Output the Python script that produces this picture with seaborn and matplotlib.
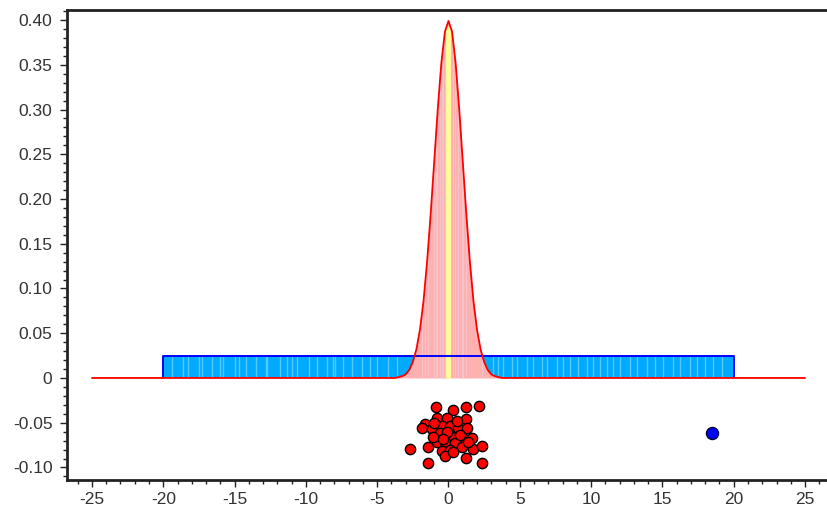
import numpy as np
import pandas as pd
import matplotlib
matplotlib.use("Agg")
import matplotlib.pyplot as plt
from matplotlib.ticker import MultipleLocator, FuncFormatter
import seaborn as sns

# normal density curve
curve_x = [-25, -4.0, -3.75, -3.5, -3.25, -3.0, -2.75, -2.5, -2.25, -2.0, -1.75, -1.5, -1.25, -1.0,
           -0.75, -0.5, -0.25, 0.0, 0.25, 0.5, 0.75, 1.0, 1.25, 1.5, 1.75, 2.0, 2.25, 2.5, 2.75,
           3.0, 3.25, 3.5, 3.75, 4.0, 25]
curve_y = [0.0, 0.0, 0.0, 0.001, 0.002, 0.004, 0.009, 0.018, 0.032, 0.054, 0.086, 0.130, 0.183, 0.242,
           0.301, 0.352, 0.387, 0.399, 0.387, 0.352, 0.301, 0.242, 0.183, 0.130, 0.086, 0.054, 0.032,
           0.018, 0.009, 0.004, 0.002, 0.001, 0.0, 0.0, 0.0]

# uniform density block
unif_lo, unif_hi, unif_h = -20, 20, 0.025
unif_stripes = [-19.4, -18.6, -18.25, -17.5, -17.3, -16.6, -16.0, -15.8, -15.0, -14.7, -14.2, -13.5,
                -12.8, -12.7, -11.8, -11.35, -11.0, -10.6, -9.8, -9.25, -8.5, -8.1, -7.96, -7.38,
                -6.79, -6.09, -5.5, -5.03, -4.22, -3.63, 3.14, 3.49, 3.84, 4.43, 4.78, 5.48, 5.95,
                6.53, 6.89, 7.59, 8.05, 8.52, 9.11, 9.69, 10.16, 10.63, 11.09, 11.56, 12.03, 12.73,
                13.2, 13.9, 14.48, 15.07, 15.77, 16.24, 16.94, 17.41, 17.99, 18.57, 19.16]

# samples shown below the axis
pts_x = [-0.90, 0.34, 1.20, 2.14, -1.65, -0.83, -0.13, 1.20, -1.88, -1.18, -0.48, 0.11, 0.69, 1.27,
         -0.60, 0.22, 1.04, 1.62, -0.83, -0.25, 0.46, -1.42, 0.93, 1.74, 2.37, -2.70, -0.48, 0.11,
         -0.25, 1.20, -1.42, 2.33, -1.0, 0.6, -0.1, 0.8, -0.4, 1.4, 0.3, -1.1]
pts_y = [-0.032, -0.036, -0.032, -0.031, -0.051, -0.045, -0.045, -0.046, -0.056, -0.057, -0.054,
         -0.054, -0.056, -0.056, -0.062, -0.066, -0.067, -0.067, -0.071, -0.071, -0.073, -0.077,
         -0.077, -0.079, -0.076, -0.079, -0.082, -0.080, -0.087, -0.089, -0.095, -0.095, -0.050,
         -0.048, -0.060, -0.064, -0.068, -0.072, -0.083, -0.066]
mean_x = [18.46]
mean_y = [-0.061]

sns.set_style("ticks")
plt.rcParams['font.family'] = ['Liberation Sans', 'DejaVu Sans']
plt.rcParams['axes.unicode_minus'] = False

fig = plt.figure(figsize=(8.27, 5.09), dpi=100)
ax = fig.add_axes([0.081, 0.057, 0.919, 0.923])

# blue uniform block with light stripes
ax.fill_between([unif_lo, unif_hi], 0, unif_h, color='#00aaff', lw=0, zorder=1)
ax.vlines(unif_stripes, 0, unif_h, color='#55c8ff', lw=1.0, zorder=1.5)

# pink normal area with faint stripes at sample positions
ax.fill_between(curve_x, 0, curve_y, color='#ffb0b0', lw=0, zorder=2)
cx = np.array(curve_x)
cy = np.array(curve_y)
ax.vlines(pts_x[::2], 0, np.interp(pts_x[::2], cx, cy) * 0.97, color='#f8c4c8', lw=0.7, zorder=2.2)
ax.vlines([0], 0, 0.393, color='#ffff99', lw=3.5, zorder=2.5)

# outlines
ax.plot([unif_lo, unif_lo, unif_hi, unif_hi], [0, unif_h, unif_h, 0], color='#0000ff', lw=1.4, zorder=3)
df = pd.DataFrame({'x': curve_x, 'y': curve_y})
sns.lineplot(data=df, x='x', y='y', color='#ff0000', lw=1.3, ax=ax, zorder=4, sort=False)

sns.scatterplot(x=pts_x, y=pts_y, color='#ff0000', edgecolor='black', linewidth=1.0, s=55, ax=ax, zorder=5)
sns.scatterplot(x=mean_x, y=mean_y, color='#0000ff', edgecolor='#000033', linewidth=1.0, s=75, ax=ax, zorder=5)

ax.set_xlim(-26.75, 26.54)
ax.set_ylim(-0.114, 0.411)
ax.set_xlabel('')
ax.set_ylabel('')
ax.xaxis.set_major_locator(MultipleLocator(5))
ax.xaxis.set_minor_locator(MultipleLocator(1))
ax.yaxis.set_major_locator(MultipleLocator(0.05))
ax.yaxis.set_minor_locator(MultipleLocator(0.01))
ax.xaxis.set_major_formatter(FuncFormatter(lambda v, p: f"{v:.0f}"))
ax.yaxis.set_major_formatter(FuncFormatter(lambda v, p: "0" if abs(v) < 1e-9 else f"{v:.2f}"))

ax.spines['right'].set_visible(False)
for s in ['left', 'top', 'bottom']:
    ax.spines[s].set_linewidth(2.0)
    ax.spines[s].set_color('#222222')
ax.tick_params(which='major', length=5, width=1, labelsize=12.5, colors='#222222')
ax.tick_params(axis='y', which='major', pad=5.5)
ax.tick_params(axis='x', which='major', pad=4)
ax.tick_params(which='minor', length=3, width=1, colors='#222222')
for lab in ax.get_xticklabels() + ax.get_yticklabels():
    lab.set_color('#333333')

fig.savefig('out.png', dpi=100, facecolor='white')
